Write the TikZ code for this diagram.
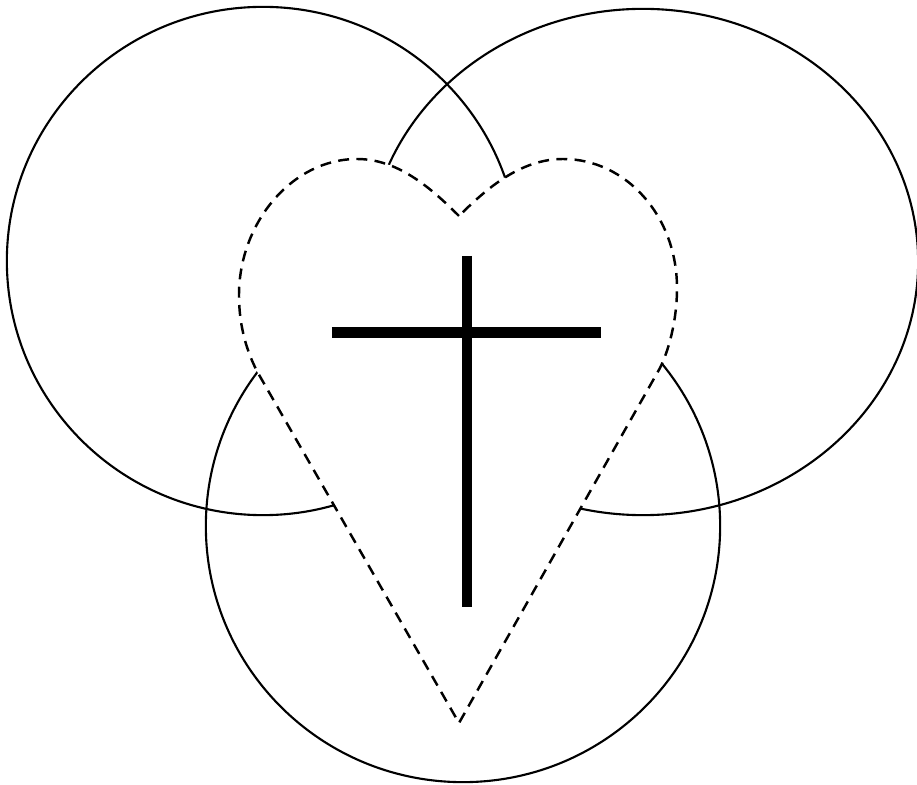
\documentclass[tikz,border=0pt]{standalone}
\begin{document}
\begin{tikzpicture}[x=0.01cm,y=-0.01cm,
  ring/.style={line width=0.6pt},
  heartline/.style={line width=0.7pt, dash pattern=on 3.1pt off 2.1pt, fill=white},
  crossbar/.style={line width=3.1pt}]
\useasboundingbox (0,0) rectangle (917,785);
% circles
\coordinate (cl) at (263,261);
\coordinate (cr) at (643,262);
\coordinate (cb) at (463,526);
\draw[ring] (cl) ellipse [x radius=2.56cm, y radius=2.54cm];
\draw[ring] (cr) ellipse [x radius=2.75cm, y radius=2.53cm];
\draw[ring] (cb) ellipse [x radius=2.57cm, y radius=2.56cm];
% heart
\coordinate (notch) at (459,216);
\coordinate (tip) at (459,723);
\draw[heartline] (notch) .. controls (431,188) and (398,159) .. (357,159)
  .. controls (292,159) and (239,223) .. (239,295)
  .. controls (239,332) and (250,358) .. (258,373)
  -- (tip)
  -- (660,368)
  .. controls (668,352) and (677,322) .. (677,288)
  .. controls (677,216) and (626,159) .. (563,159)
  .. controls (521,159) and (487,188) .. (notch) -- cycle;
% cross
\coordinate (vt) at (467,256);
\coordinate (vb) at (467,607);
\coordinate (hl) at (332,332.5);
\coordinate (hr) at (601,332.5);
\draw[crossbar] (vt) -- (vb);
\draw[crossbar] (hl) -- (hr);
\end{tikzpicture}
\end{document}
